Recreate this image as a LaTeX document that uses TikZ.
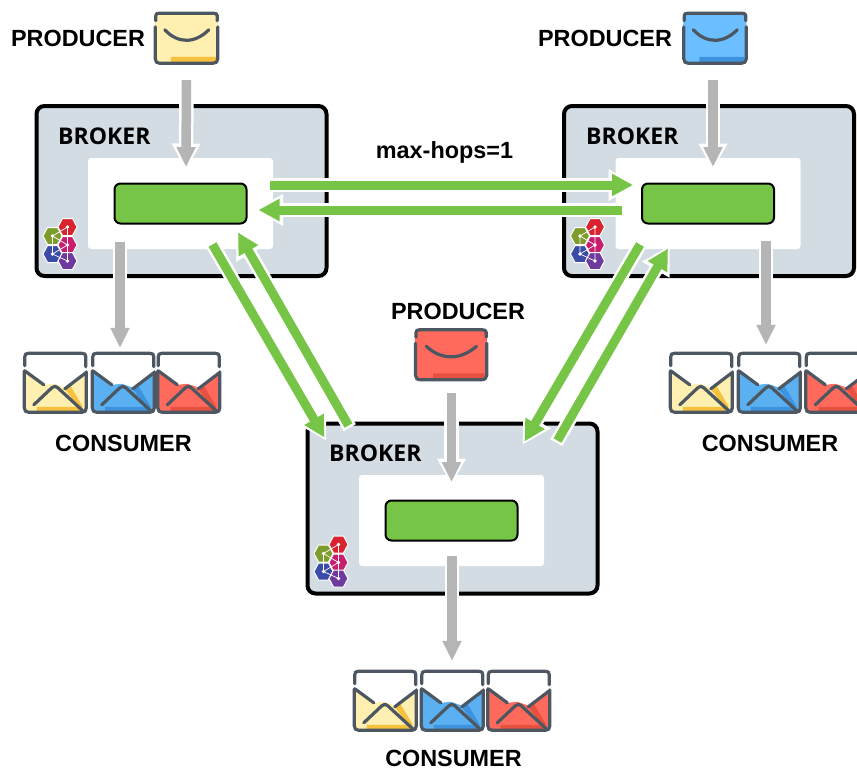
\documentclass[tikz,border=0pt]{standalone}
\usepackage{fontspec}
\setmainfont{Liberation Sans}
\newfontfamily\brkfont{Open Sans}
\usetikzlibrary{arrows.meta,calc}
\definecolor{frame}{HTML}{4D5762}
\definecolor{brokerbg}{HTML}{D3DBE3}
\definecolor{queuegreen}{HTML}{76C547}
\definecolor{flowgray}{HTML}{B5B5B5}
\definecolor{yel}{HTML}{FFEFB0}\definecolor{yelacc}{HTML}{F6C23E}
\definecolor{blu}{HTML}{5AB0F0}\definecolor{bluacc}{HTML}{3D93DD}
\definecolor{bluc}{HTML}{6BBEFF}
\definecolor{rd}{HTML}{FF6A5C}\definecolor{rdacc}{HTML}{E5503F}
\definecolor{hexred}{HTML}{D9232E}\definecolor{hexolive}{HTML}{7E9C2B}
\definecolor{hexmag}{HTML}{C81E6E}\definecolor{hexblue}{HTML}{3B4BA8}
\definecolor{hexpur}{HTML}{6F3A9E}
\tikzset{
  x=1pt,y=-1pt,
  brokerbox/.style={draw=black,line width=4pt,rounded corners=8pt,fill=brokerbg,minimum width=290pt,minimum height=170pt,inner sep=0},
  whitebox/.style={fill=white,rounded corners=3pt,minimum width=185pt,minimum height=91pt,inner sep=0},
  queuebox/.style={draw=black,line width=2pt,rounded corners=6pt,fill=queuegreen,minimum width=132pt,minimum height=40pt,inner sep=0},
  envbox/.style={inner sep=0,minimum width=#1,minimum height=53pt},
  openbox/.style={inner sep=0,minimum width=#1,minimum height=62pt},
  heading/.style={font=\fontsize{23.4}{26}\selectfont\bfseries,inner sep=0},
  brokerlabel/.style={font=\brkfont\fontsize{23}{26}\selectfont\bfseries,inner sep=0,anchor=west},
  envline/.style={draw=frame,line width=3.2pt,line cap=round,line join=round},
  hexa/.style={draw=white,line width=1pt},
  grayflow/.style={flowgray,line width=9.5pt,-{Triangle[length=20pt,width=18pt]}},
  greenflow/.style={queuegreen,line width=9pt,-{Triangle[length=21pt,width=21pt]}},
  grayhalo/.style={white,line width=14.5pt,shorten >=-3.5pt,shorten <=-2.5pt,-{Triangle[length=27pt,width=27pt]}},
  greenhalo/.style={white,line width=14pt,shorten >=-3.5pt,shorten <=-2.5pt,-{Triangle[length=28pt,width=30pt]}},
}
\newcommand\closedenv[3]{% node, fill, accent
  \begin{scope}[shift={(#1.north west)},xscale=\envw]
    \fill[#2,rounded corners=5pt] (1,2) rectangle (64,52);
    \fill[#3] (17,45) -- (62,45) -- (62,48) -- (60,50) -- (17,50) -- cycle;
    \draw[envline] (2,9) -- (2,4) .. controls (2,2) and (3,1.5) .. (5,1.5) -- (60,1.5) .. controls (62,1.5) and (63.5,2) .. (63.5,4) -- (63.5,9);
    \draw[envline] (1.5,15) -- (1.5,47) .. controls (1.5,50) and (3,51.5) .. (6,51.5) -- (59,51.5) .. controls (62,51.5) and (64,50) .. (64,47) -- (64,15);
    \draw[envline] (11,18) .. controls (24,32) and (41,32) .. (55,18);
  \end{scope}}
\newcommand\openenv[3]{% node, fill, accent
  \begin{scope}[shift={(#1.north west)}]
    \fill[white] (2,2) rectangle (62,22);
    \fill[#2] (2,19) -- (21,33) -- (31,32) -- (43,36) -- (63,21) -- (63,60) -- (2,60) -- cycle;
    \fill[#3] (42,37) -- (47,33) -- (60,55) -- (56,56) -- cycle;
    \fill[#3] (14,55) -- (58,55) -- (62,60) -- (14,60) -- cycle;
    \draw[envline] (2,14) -- (2,5) .. controls (2,2.5) and (3,1.5) .. (5.5,1.5) -- (59,1.5) .. controls (62,1.5) and (63,2.5) .. (63,5) -- (63,15);
    \draw[envline] (1.5,19) -- (1.5,56) .. controls (1.5,59) and (3,60.5) .. (6,60.5) -- (59,60.5) .. controls (62,60.5) and (63.5,59) .. (63.5,56) -- (63.5,20);
    \draw[envline] (2,19) -- (21,33);
    \draw[envline] (42,37) -- (63,21);
    \draw[envline] (11,53) -- (29,36) .. controls (31,34) and (33,34) .. (35,36) -- (60,59);
  \end{scope}}
\newcommand\logo[1]{% broker node
  \begin{scope}[shift={(#1.south west)},shift={(-35,-276)}]
    \foreach \cx/\cy/\cc in {68/225/hexred,53/234/hexolive,68/243/hexmag,53/252/hexblue,68/259/hexpur}{
      \fill[\cc,hexa] (\cx-5,\cy-8.5) -- (\cx+5,\cy-8.5) -- (\cx+9.5,\cy) -- (\cx+5,\cy+8.5) -- (\cx-5,\cy+8.5) -- (\cx-9.5,\cy) -- cycle;
    }
    \draw[white,line width=.7pt] (68,225) -- (68,259) (53,234) -- (68,225) (53,234) -- (68,243) (53,234) -- (53,252) (53,252) -- (68,243) (53,252) -- (68,259);
    \foreach \cx/\cy in {68/225,53/234,68/243,53/252,68/259}{\fill[white] (\cx,\cy) circle (1.8pt);}
  \end{scope}}
\newcommand\flow[4]{% halo style, line style, from, to
  \draw[#1] #3 -- #4;
  \draw[#2] #3 -- #4;}
\begin{document}
\begin{tikzpicture}
\clip (0,0) rectangle (857,769);
\fill[white] (0,0) rectangle (857,769);
% brokers
\node[brokerbox] (ba) at (181.5,191) {};
\node[brokerbox] (bb) at (709,191) {};
\node[brokerbox] (bc) at (452.5,508.5) {};
\node[whitebox] (wa) at (180.5,203.5) {};
\node[whitebox] (wb) at (708,203.5) {};
\node[whitebox] (wc) at (451.5,520.5) {};
\node[queuebox] (qa) at (180.5,203.5) {};
\node[queuebox] (qb) at (708,203.5) {};
\node[queuebox] (qc) at (451.5,520.5) {};
\node[brokerlabel] (la) at (58,136.5) {BROKER};
\node[brokerlabel] (lb) at (586,136.5) {BROKER};
\node[brokerlabel] (lc) at (329,453.5) {BROKER};
\logo{ba}\logo{bb}\logo{bc}
% producers
\node[envbox=65pt] (pa) at (186.5,38.5) {};
\node[envbox=65pt] (pb) at (715,38.5) {};
\node[envbox=74pt] (pc) at (451,355) {};
\def\envw{1}
\closedenv{pa}{yel}{yelacc}
\closedenv{pb}{bluc}{bluacc}
\def\envw{1.14}
\closedenv{pc}{rd}{rdacc}
% consumers
\node[openbox=65pt] (ca1) at (55.5,383) {};
\node[openbox=65pt] (ca2) at (123.5,383) {};
\node[openbox=65pt] (ca3) at (189,383) {};
\node[openbox=65pt] (cb1) at (701.5,383) {};
\node[openbox=65pt] (cb2) at (769.5,383) {};
\node[openbox=65pt] (cb3) at (837,383) {};
\node[openbox=65pt] (cc1) at (385.5,701) {};
\node[openbox=65pt] (cc2) at (452.5,701) {};
\node[openbox=65pt] (cc3) at (519,701) {};
\openenv{ca1}{yel}{yelacc}\openenv{ca2}{blu}{bluacc}\openenv{ca3}{rd}{rdacc}
\openenv{cb1}{yel}{yelacc}\openenv{cb2}{blu}{bluacc}\openenv{cb3}{rd}{rdacc}
\openenv{cc1}{yel}{yelacc}\openenv{cc2}{blu}{bluacc}\openenv{cc3}{rd}{rdacc}
% labels
\node[heading] (tpa) at (78,38) {PRODUCER};
\node[heading] (tpb) at (605,38) {PRODUCER};
\node[heading] (tpc) at (458,311) {PRODUCER};
\node[heading] (tca) at (123.5,443) {CONSUMER};
\node[heading] (tcb) at (770,443) {CONSUMER};
\node[heading] (tcc) at (453.5,758.5) {CONSUMER};
\node[heading] (hops) at (444.5,152) {max-hops=1};
% producer and consumer flows
\flow{grayhalo}{grayflow}{($(pa.south)+(0,15)$)}{($(qa.north)+(5.5,-15.5)$)}
\flow{grayhalo}{grayflow}{($(pb.south)+(-2,15)$)}{($(qb.north)+(5,-15.5)$)}
\flow{grayhalo}{grayflow}{($(pc.south)+(0.5,11)$)}{($(qc.north)+(0,-17.5)$)}
\flow{grayhalo}{grayflow}{($(qa.south)+(-60.5,17)$)}{($(ca2.north)+(-3.5,-4)$)}
\flow{grayhalo}{grayflow}{($(qb.south)+(58,16)$)}{($(cb2.north)+(-3.5,-7)$)}
\flow{grayhalo}{grayflow}{($(qc.south)+(0.5,14.5)$)}{($(cc2.north)+(-0.5,-9)$)}
% cluster links
\flow{greenhalo}{greenflow}{($(qa.east)+(22,-18.5)$)}{($(qb.west)+(-8,-18.5)$)}
\flow{greenhalo}{greenflow}{($(qb.west)+(-19,6.5)$)}{($(qa.east)+(11,6.5)$)}
\flow{greenhalo}{greenflow}{($(qa.south)+(32,20)$)}{($(bc.north west)+(19,16)$)}
\flow{greenhalo}{greenflow}{($(bc.north west)+(43,4)$)}{($(qa.south)+(57.5,8)$)}
\flow{greenhalo}{greenflow}{($(qb.south)+(-68,20)$)}{($(bc.north)+(72,20)$)}
\flow{greenhalo}{greenflow}{($(bc.north)+(105,19)$)}{($(qb.south)+(-40,24)$)}
\end{tikzpicture}
\end{document}
